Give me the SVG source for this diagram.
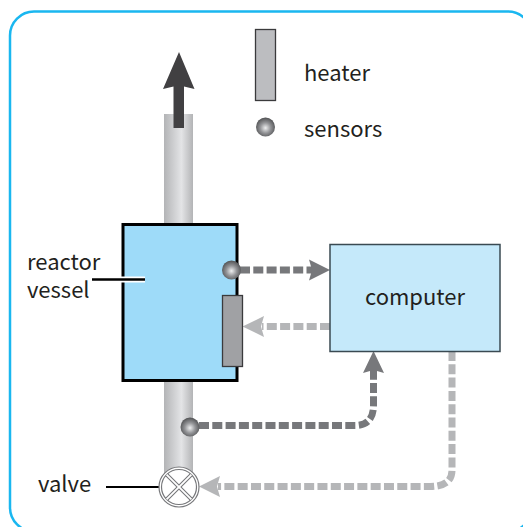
<svg xmlns="http://www.w3.org/2000/svg" width="523" height="527" viewBox="0 0 523 527">
<style>
text{font-family:"Noto Sans CJK SC","Noto Sans",sans-serif;font-size:22px;fill:#231f20}
.dk{fill:none;stroke:#77787b;stroke-width:7;stroke-dasharray:10 3.3}
.lt{fill:none;stroke:#b5b6b8;stroke-width:7;stroke-dasharray:10 3.3}
.s{fill:url(#sg)}
.h{stroke:#3a3a3c;stroke-width:1.3}
</style>
<defs>
<linearGradient id="pg" x1="0" x2="1" y1="0" y2="0"><stop offset="0" stop-color="#b3b4b6"/><stop offset=".6" stop-color="#e3e4e6"/><stop offset="1" stop-color="#b3b4b6"/></linearGradient>
<radialGradient id="sg" cx=".5" cy=".55" r=".55"><stop offset="0" stop-color="#eeeff0"/><stop offset=".5" stop-color="#939497"/><stop offset="1" stop-color="#505153"/></radialGradient>
</defs>
<rect id="frame" x="10" y="11.500" width="522" height="520" rx="24" fill="#fff" stroke="#1ab7f0" stroke-width="2.500"/>
<rect id="pipe" x="164" y="114" width="29" height="360" fill="url(#pg)"/>
<g id="flow-arrow"><path d="M173.500 128V86.500L163 89 179 52 194.500 89 184 86.500V128Z" fill="#414042"/></g>
<g id="legend-heater"><rect x="255.500" y="29.500" width="20" height="71" fill="#bcbdc0" class="h"/><text x="304" y="81">heater</text></g>
<g id="legend-sensor"><circle cx="265.500" cy="127" r="9.500" class="s"/><text x="304" y="137">sensors</text></g>
<g id="connectors">
<path class="dk" d="M240 270H312"/><path d="M330 270 309 259.500 312 270 309 280.500Z" fill="#77787b"/>
<path class="lt" d="M330 326.500H262"/><path d="M242.500 326.500 264 316 261 326.500 264 337Z" fill="#b5b6b8"/>
<path class="dk" d="M199 425.500H355Q373.500 425.500 373.500 405V370"/><path d="M373.500 351 363 373 373.500 370 384 373Z" fill="#77787b"/>
<path class="lt" d="M452 351V470Q452 486.500 430 486.500H218"/><path d="M199 486.500 220 476 217 486.500 220 497Z" fill="#b5b6b8"/>
</g>
<g id="vessel"><rect x="123" y="224.500" width="114" height="156" fill="#9edbf9" stroke="#000" stroke-width="3"/>
<path d="M92 279.500H145" stroke="#fff" stroke-width="6"/><path d="M92 279.500H145" stroke="#000" stroke-width="2.500"/>
<text><tspan x="27" y="269.500">reactor</tspan><tspan x="27" y="298">vessel</tspan></text></g>
<g id="vessel-sensor"><circle cx="231.500" cy="270" r="9.500" class="s"/></g>
<g id="vessel-heater"><rect x="222.500" y="295.500" width="20" height="71" fill="#a0a1a4" class="h"/></g>
<g id="computer"><rect x="330" y="244.500" width="170" height="107" fill="#c5e9fa" stroke="#3a4a52" stroke-width="1.500"/><text x="415" y="305" text-anchor="middle">computer</text></g>
<g id="pipe-sensor"><circle cx="190" cy="427" r="9.500" class="s"/></g>
<g id="valve"><path d="M106 487H160" stroke="#000" stroke-width="2"/>
<circle cx="179" cy="487" r="20" fill="#fff" stroke="#77787b" stroke-width="1.200"/><circle cx="179" cy="487" r="17.500" fill="#fff" stroke="#77787b" stroke-width="1.200"/>
<path d="M166.600 474.600 191.400 499.400M191.400 474.600 166.600 499.400" stroke="#77787b" stroke-width="4"/><path d="M166.600 474.600 191.400 499.400M191.400 474.600 166.600 499.400" stroke="#fff" stroke-width="1.800"/>
<text x="38" y="492">valve</text></g>
</svg>
